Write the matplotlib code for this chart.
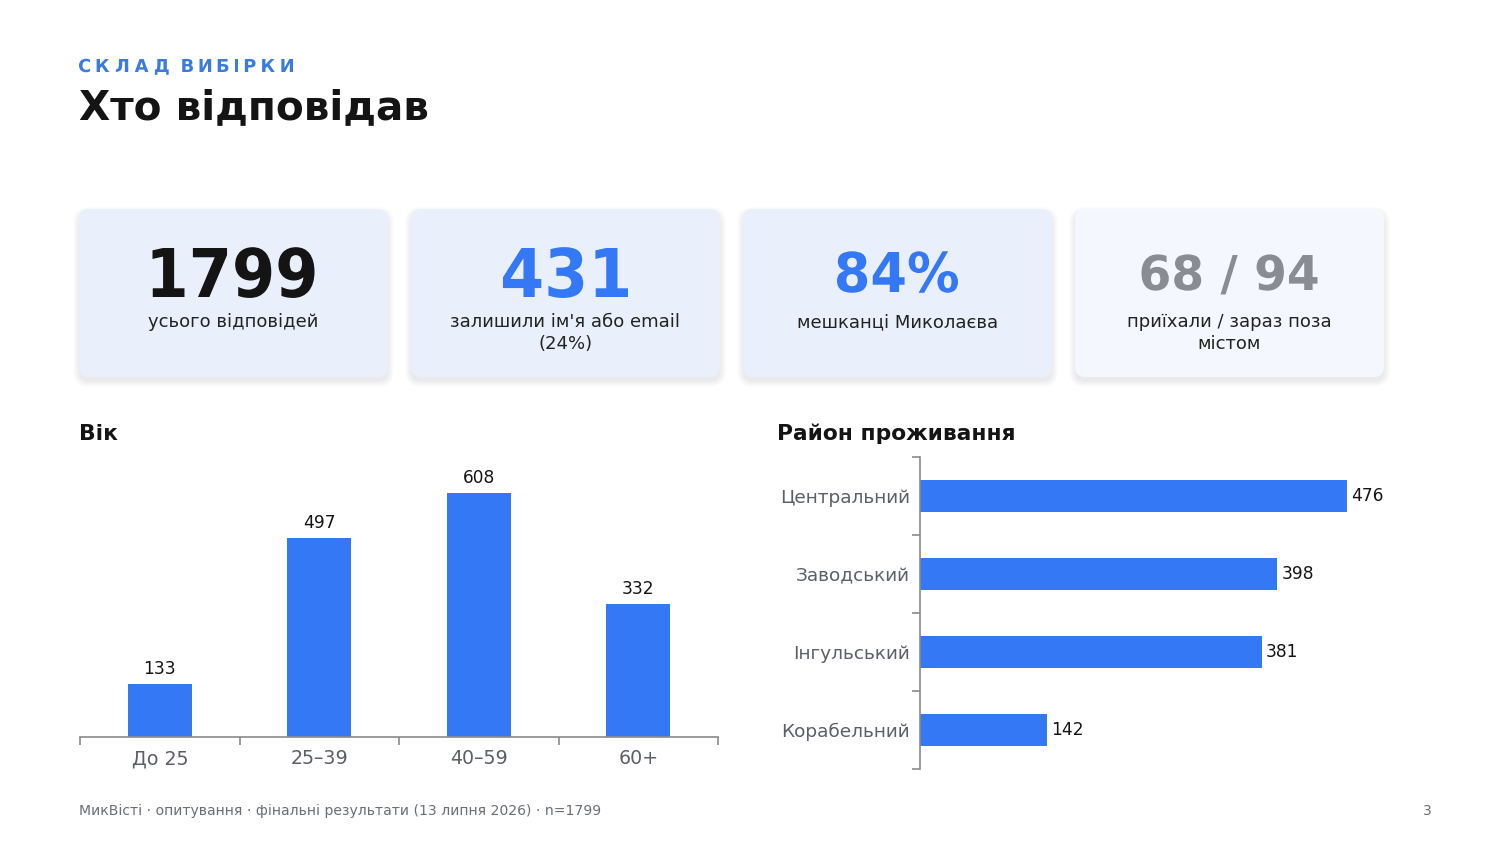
import matplotlib
matplotlib.use("Agg")
import matplotlib.pyplot as plt
from matplotlib.patches import FancyBboxPatch, PathPatch
from matplotlib.textpath import TextPath
from matplotlib.font_manager import FontProperties
from matplotlib.transforms import Affine2D

plt.rcParams['font.family'] = ['DejaVu Sans']

# data
age_groups = ['До 25', '25–39', '40–59', '60+']
age_counts = [133, 497, 608, 332]
districts = ['Центральний', 'Заводський', 'Інгульський', 'Корабельний']
district_counts = [476, 398, 381, 142]

card_values = ['1799', '431', '84%', '68 / 94']
card_labels = ['усього відповідей', "залишили ім'я або email\n(24%)",
               'мешканці Миколаєва', 'приїхали / зараз поза\nмістом']

BLUE = '#3478f6'
KICKER = '#3b7be0'
DARK = '#141414'
GREY_TXT = '#5c5f66'
AXIS = '#8a8a8a'

W, H = 1500, 844
fig = plt.figure(figsize=(W / 100, H / 100), dpi=100)
fig.patch.set_facecolor('white')

bg = fig.add_axes([0, 0, 1, 1])
bg.set_xlim(0, W)
bg.set_ylim(H, 0)
bg.axis('off')
bg.set_zorder(-1)

BOLD = FontProperties(family='DejaVu Sans', weight='bold')


def pt(px):
    return px * 0.72


def glyph_path(s, size):
    return TextPath((0, 0), s, size=size, prop=BOLD)


def draw_path(path, x0, baseline, sx, sy, color):
    tr = Affine2D().scale(sx, -sy).translate(x0, baseline) + bg.transData
    bg.add_patch(PathPatch(path, fc=color, ec='none', lw=0, transform=tr))


def fitted_number(s, cx, baseline, cap_h, width, color):
    # bold number squeezed to the ink box of the reference
    p = glyph_path(s, 100)
    ext = p.get_extents()
    sy = cap_h / 72.9
    sx = width / ext.width
    draw_path(p, cx - (ext.x0 + ext.width / 2) * sx, baseline, sx, sy, color)


def tracked_text(s, x0, baseline, cap_h, total_w, word_extra, color):
    scale = cap_h / 72.9
    letters = [c for c in s if c != ' ']
    paths = [glyph_path(c, 100) for c in letters]
    widths = [p.get_extents().width * scale for p in paths]
    gap = (total_w - sum(widths) - word_extra * s.count(' ')) / (len(letters) - 1)
    x = x0
    li = 0
    for c in s:
        if c == ' ':
            x += word_extra
            continue
        p = paths[li]
        draw_path(p, x - p.get_extents().x0 * scale, baseline, scale, scale, color)
        x += widths[li] + gap
        li += 1


# kicker and title
tracked_text('СКЛАД ВИБІРКИ', 79, 72, 13, 214, 7, KICKER)
bg.text(79, 108, 'Хто відповідав', fontsize=pt(40.5), fontweight='bold',
        color=DARK, va='center', ha='left')

# cards
card_x = [79, 411, 743, 1075]
card_w, card_h, card_y = 309, 168, 209
card_fc = ['#e9f0fb', '#e9f0fb', '#e9f0fb', '#f5f7fe']
val_colors = [DARK, BLUE, BLUE, '#8a8c94']
val_cap = [49, 49, 40, 35]
val_width = [162, 125, 121, 176]
val_base = [297, 297, 292, 290]
for i, cx in enumerate(card_x):
    for k in range(7):
        s = FancyBboxPatch((cx - k, card_y + 4 - k), card_w + 2 * k, card_h + 2 * k,
                           boxstyle='round,pad=0,rounding_size=%d' % (10 + k),
                           fc='#1b2a4a', ec='none', alpha=0.011)
        bg.add_patch(s)
    bg.add_patch(FancyBboxPatch((cx, card_y), card_w, card_h,
                                boxstyle='round,pad=0,rounding_size=10',
                                fc=card_fc[i], ec='none'))
    mid = cx + card_w / 2
    fitted_number(card_values[i], mid, val_base[i], val_cap[i], val_width[i], val_colors[i])
    bg.text(mid, 313, card_labels[i], fontsize=pt(18), color='#222222',
            ha='center', va='top', linespacing=1.3)

# section titles
bg.text(79, 434, 'Вік', fontsize=pt(21.8), fontweight='bold', color=DARK,
        va='center', ha='left')
bg.text(777, 434, 'Район проживання', fontsize=pt(21.8), fontweight='bold',
        color=DARK, va='center', ha='left')

# footer
bg.text(79, 811, 'МикВісті · опитування · фінальні результати (13 липня 2026) · n=1799',
        fontsize=pt(14), color='#6b6e76', va='center', ha='left')
bg.text(1432, 811, '3', fontsize=pt(14), color='#6b6e76', va='center', ha='right')


def fig_rect(x0, y0, x1, y1):
    return [x0 / W, 1 - y1 / H, (x1 - x0) / W, (y1 - y0) / H]


# age chart
ax1 = fig.add_axes(fig_rect(80, 455, 718, 737))
xs = list(range(len(age_groups)))
ax1.bar(xs, age_counts, width=0.4, color=BLUE)
ax1.set_xlim(-0.5, len(age_groups) - 0.5)
ax1.set_ylim(0, 702.7)
for xi, v in zip(xs, age_counts):
    ax1.annotate(str(v), (xi, v), xytext=(0, 4), textcoords='offset points',
                 ha='center', va='bottom', fontsize=pt(17), color=DARK)
ax1.set_xticks([i - 0.5 for i in range(len(age_groups) + 1)])
ax1.set_xticklabels([])
ax1.set_xticks(xs, minor=True)
ax1.set_xticklabels(age_groups, minor=True, fontsize=pt(19), color=GREY_TXT)
ax1.tick_params(axis='x', which='major', length=6, color=AXIS, width=1.2)
ax1.tick_params(axis='x', which='minor', length=0, pad=9)
ax1.set_yticks([])
for s in ['top', 'right', 'left']:
    ax1.spines[s].set_visible(False)
ax1.spines['bottom'].set_color(AXIS)
ax1.spines['bottom'].set_linewidth(1.2)
ax1.patch.set_alpha(0)

# district chart
ax2 = fig.add_axes(fig_rect(920, 457, 1430, 769))
ys = list(range(len(districts)))
ax2.barh(ys, district_counts, height=0.4, color=BLUE)
ax2.set_ylim(len(districts) - 0.5, -0.5)
ax2.set_xlim(0, 568.5)
for yi, v in zip(ys, district_counts):
    ax2.annotate(str(v), (v, yi), xytext=(3, 0), textcoords='offset points',
                 ha='left', va='center', fontsize=pt(17), color=DARK)
ax2.set_yticks([i - 0.5 for i in range(len(districts) + 1)])
ax2.set_yticklabels([])
ax2.set_yticks(ys, minor=True)
ax2.set_yticklabels(districts, minor=True, fontsize=pt(18.5), color=GREY_TXT)
ax2.tick_params(axis='y', which='major', length=6, color=AXIS, width=1.2)
ax2.tick_params(axis='y', which='minor', length=0, pad=7.2)
ax2.set_xticks([])
for s in ['top', 'right', 'bottom']:
    ax2.spines[s].set_visible(False)
ax2.spines['left'].set_color(AXIS)
ax2.spines['left'].set_linewidth(1.2)
ax2.patch.set_alpha(0)

fig.savefig('out.png', dpi=100, facecolor='white')
